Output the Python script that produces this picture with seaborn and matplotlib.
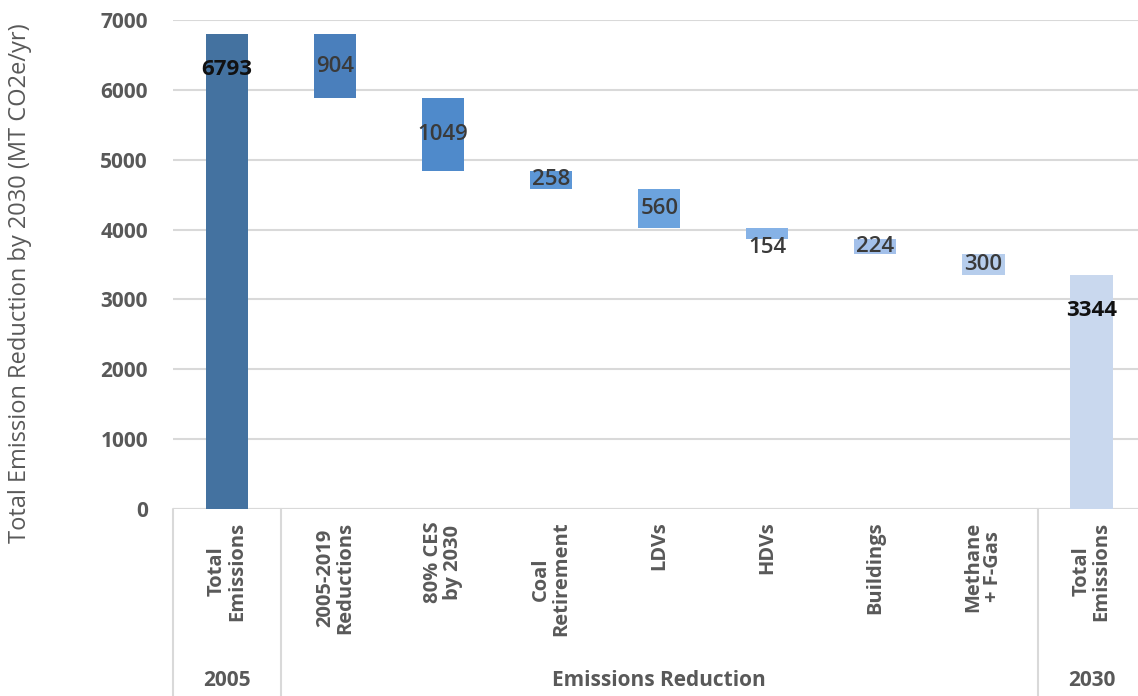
import matplotlib
matplotlib.use("Agg")
import matplotlib.pyplot as plt
import matplotlib.transforms as mtransforms
import numpy as np
import pandas as pd
import seaborn as sns

# Waterfall data: starting total, stepwise reductions, ending total
categories = ["Total\nEmissions", "2005-2019\nReductions", "80% CES\nby 2030",
              "Coal\nRetirement", "LDVs", "HDVs", "Buildings",
              "Methane\n+ F-Gas", "Total\nEmissions"]
values = [6793, 904, 1049, 258, 560, 154, 224, 300, 3344]
is_total = [True, False, False, False, False, False, False, False, True]
groups = ["2005", "Emissions Reduction", "2030"]
group_spans = [(0, 0), (1, 7), (8, 8)]
colors = ["#4472A0", "#4A7FBC", "#4F8ACB", "#5D97D6", "#6CA3DE",
          "#86B2E6", "#A3C0EA", "#B6CDEC", "#C9D8EE"]

# Bar bottoms: totals sit on zero, reductions hang from the running level
bottoms = []
level = 0
for v, tot in zip(values, is_total):
    if tot:
        bottoms.append(0)
        level = v
    else:
        level -= v
        bottoms.append(level)

sns.set_theme(style="white")
plt.rcParams["font.family"] = ["Open Sans", "DejaVu Sans"]

fig = plt.figure(figsize=(11.38, 6.96), dpi=100)
ax = fig.add_axes([173 / 1138, 1 - 509 / 696, 1 - 173 / 1138, 489 / 696])

df = pd.DataFrame({"pos": [str(i) for i in range(len(values))], "value": values})
sns.barplot(data=df, x="pos", y="value", hue="pos", palette=colors,
            width=0.39, legend=False, ax=ax, saturation=1, linewidth=0)

for patch, b in zip(ax.patches, bottoms):
    patch.set_y(b)

ax.set_ylim(0, 7000)
ax.set_xlim(-0.5, 8.43)
ax.set_yticks(np.arange(0, 7001, 1000))
ax.yaxis.grid(True, color="#D9D9D9", linewidth=1.5)
ax.set_axisbelow(True)
for s in ax.spines.values():
    s.set_visible(False)
ax.axhline(0, color="#D9D9D9", linewidth=1.5, zorder=0)

ax.tick_params(axis="y", length=0, pad=18, labelsize=15, labelcolor="#595959")
for t in ax.get_yticklabels():
    t.set_fontweight("bold")

ax.set_xticks(range(len(categories)))
ax.set_xticklabels(categories, rotation=90, fontsize=14.5, color="#595959",
                   fontweight="bold", multialignment="center", va="top",
                   linespacing=1.0)
ax.tick_params(axis="x", length=0, pad=9)

ax.set_xlabel("")
ax.set_ylabel("Total Emission Reduction by 2030 (MT CO2e/yr)", fontsize=17,
              color="#595959")
ax.yaxis.set_label_coords(-141 / 965, (509 - 283) / 489)

# Value labels
for i, (v, b, tot) in enumerate(zip(values, bottoms, is_total)):
    if tot:
        y = v - 500
        ax.text(i, y, f"{v}", ha="center", va="center", fontsize=16,
                fontweight="bold", color="#111111")
    else:
        y = b + v / 2
        if v < 200:
            y = b - 120
        ax.text(i, y, f"{v}", ha="center", va="center", fontsize=16,
                fontweight="semibold", color="#3A3A3A")

# Group separators and group labels below the category labels
trans = mtransforms.blended_transform_factory(ax.transData, fig.transFigure)
y_axis_fig = 1 - 509 / 696
for edge in [-0.5, 0.5, 7.5]:
    ax.plot([edge, edge], [0, y_axis_fig], transform=trans, color="#D9D9D9",
            linewidth=1.5, clip_on=False)
for name, (a, b) in zip(groups, group_spans):
    ax.text((a + b) / 2, 1 - 680 / 696, name, transform=trans, ha="center",
            va="center", fontsize=15, fontweight="bold", color="#595959")

fig.savefig("out.png", dpi=100)
